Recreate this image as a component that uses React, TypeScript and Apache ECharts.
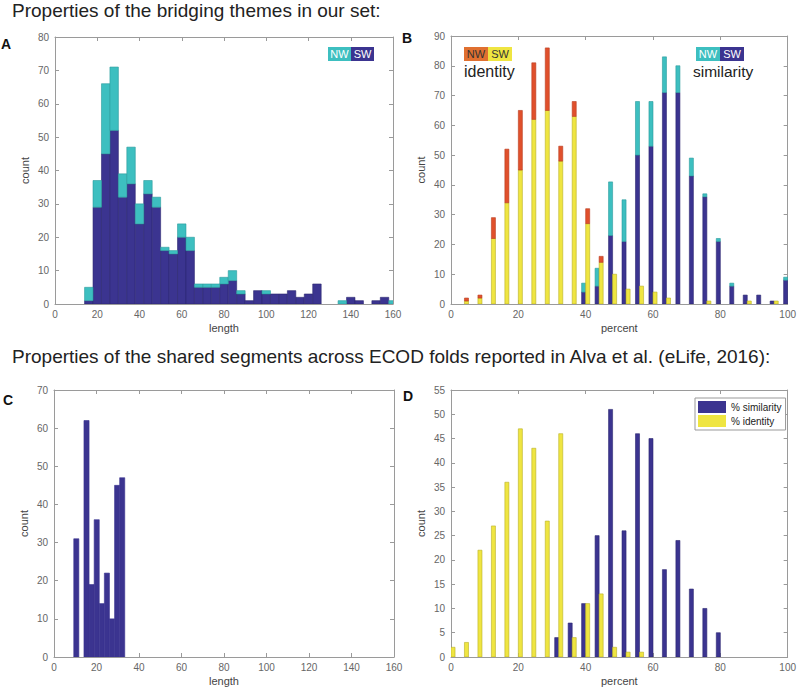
import React, { useEffect, useRef } from "react";
import * as echarts from "echarts";

// ---------- DATA ----------
// Panel A: length histogram of bridging themes (bin starts, width 4)
const aBinStarts = [14, 18, 22, 26, 30, 34, 38, 42, 46, 50, 54, 58, 62, 66, 70, 74, 78, 82, 86, 90, 94, 98, 102, 106, 110, 114, 118, 122, 126, 130, 134, 138, 142, 146, 150, 154, 158];
const aSW = [1, 29, 45, 52, 32, 36, 24, 33, 29, 16, 15, 20, 16, 5, 5, 5, 6, 7, 3, 1, 4, 3, 3, 3, 4, 2, 3, 6, 0, 0, 0, 2, 1, 0, 1, 2, 0];
const aTotal = [5, 37, 66, 71, 39, 47, 30, 37, 32, 17, 16, 24, 20, 6, 6, 6, 8, 10, 4, 1, 4, 4, 3, 3, 4, 2, 3, 6, 0, 0, 1, 2, 1, 0, 1, 2, 1];
const aBinWidth = 4;

// Panel B: percent identity / similarity (bin centers)
const bCenters = [0, 4, 8, 12, 16, 20, 24, 28, 32, 36, 40, 44, 48, 52, 56, 60, 64, 68, 72, 76, 80, 84, 88, 92, 96, 100];
const bIdentitySW = [0, 1, 2, 22, 34, 45, 62, 65, 48, 63, 27, 14, 10, 5, 6, 4, 2, 0, 0, 1, 0, 0, 1, 0, 1, 0];
const bIdentityTotal = [0, 2, 3, 29, 52, 65, 81, 86, 53, 68, 32, 16, 10, 5, 6, 4, 2, 0, 0, 1, 0, 0, 1, 0, 1, 0];
const bSimilaritySW = [0, 0, 0, 0, 0, 0, 0, 0, 0, 0, 4, 6, 23, 21, 50, 53, 71, 71, 43, 36, 21, 6, 3, 3, 1, 8];
const bSimilarityTotal = [0, 0, 0, 0, 0, 0, 0, 0, 0, 0, 7, 12, 41, 35, 68, 68, 83, 80, 49, 37, 22, 7, 3, 3, 1, 9];

// Panel C: ECOD shared segment lengths
const cBinStarts = [9.3, 11.7, 14.1, 16.5, 18.9, 21.3, 23.7, 26.1, 28.5, 30.9];
const cCounts = [31, 0, 62, 19, 36, 14, 22, 10, 45, 47];
const cBinWidth = 2.4;

// Panel D: ECOD percent similarity / identity
const dCenters = bCenters;
const dSimilarity = [0, 0, 0, 0, 0, 0, 0, 0, 4, 7, 11, 25, 51, 26, 46, 45, 18, 24, 14, 10, 5, 0, 0, 0, 0, 0];
const dIdentity = [2, 3, 22, 27, 36, 47, 43, 28, 46, 4, 11, 13, 2, 1, 1, 0, 0, 0, 0, 0, 0, 0, 0, 0, 0, 0];

// ---------- STYLE ----------
const FONT = "'Liberation Sans', Arial, Helvetica, sans-serif";
const NAVY = "#3b3490";
const NAVY_EDGE = "#2c2670";
const TEAL = "#3dbfc0";
const TEAL_EDGE = "#2a9b9c";
const RED = "#e0502c";
const RED_EDGE = "#b83c20";
const YELLOW = "#efe541";
const YELLOW_EDGE = "#b9b025";
const AXIS = "#9a9a9a";
const LABEL = "#666";
const GROUP_BAR = 1.2;

function makeRender(stroke: string) {
  return (params: any, api: any) => {
    const x0 = api.value(0);
    const x1 = api.value(1);
    const lo = api.value(2);
    const hi = api.value(3);
    if (!(hi > lo)) return null;
    const p0 = api.coord([x0, hi]);
    const p1 = api.coord([x1, lo]);
    return {
      type: "rect",
      shape: { x: p0[0], y: p0[1], width: p1[0] - p0[0], height: p1[1] - p0[1] },
      style: { fill: api.visual("color"), stroke, lineWidth: 0.6 },
    };
  };
}

function histSeries(name: string, gi: number, data: number[][], color: string, stroke: string) {
  return {
    type: "custom",
    name,
    xAxisIndex: gi * 2,
    yAxisIndex: gi * 2,
    clip: true,
    itemStyle: { color },
    renderItem: makeRender(stroke),
    data,
    silent: true,
  };
}

const grids = [
  { left: 55, top: 37, width: 338, height: 267 },
  { left: 451, top: 36, width: 340, height: 268 },
  { left: 54, top: 390, width: 340, height: 267 },
  { left: 451, top: 390, width: 339, height: 267 },
];

function buildAxes() {
  const specs = [
    { xMax: 160, xInt: 20, yMax: 80, yInt: 10, xName: "length" },
    { xMax: 100, xInt: 20, yMax: 90, yInt: 10, xName: "percent" },
    { xMax: 160, xInt: 20, yMax: 70, yInt: 10, xName: "length" },
    { xMax: 100, xInt: 20, yMax: 55, yInt: 5, xName: "percent" },
  ];
  const xAxis: any[] = [];
  const yAxis: any[] = [];
  const line = { show: true, onZero: false, lineStyle: { color: AXIS, width: 1 } };
  const tick = { show: true, inside: true, length: 4, lineStyle: { color: AXIS } };
  specs.forEach((s, gi) => {
    xAxis.push({
      gridIndex: gi, type: "value", position: "bottom", min: 0, max: s.xMax, interval: s.xInt,
      axisLine: line, axisTick: tick, splitLine: { show: false },
      axisLabel: { color: LABEL, fontSize: 10, fontFamily: FONT, margin: 5 },
      name: s.xName, nameLocation: "middle", nameGap: 18,
      nameTextStyle: { color: "#444", fontSize: 11, fontFamily: FONT },
    });
    xAxis.push({
      gridIndex: gi, type: "value", position: "top", min: 0, max: s.xMax, interval: s.xInt,
      axisLine: line, axisTick: tick, splitLine: { show: false }, axisLabel: { show: false },
    });
    yAxis.push({
      gridIndex: gi, type: "value", position: "left", min: 0, max: s.yMax, interval: s.yInt,
      axisLine: line, axisTick: tick, splitLine: { show: false },
      axisLabel: { color: LABEL, fontSize: 10, fontFamily: FONT, margin: 6 },
      name: "count", nameLocation: "middle", nameGap: 25, nameRotate: 90,
      nameTextStyle: { color: "#444", fontSize: 11, fontFamily: FONT },
    });
    yAxis.push({
      gridIndex: gi, type: "value", position: "right", min: 0, max: s.yMax, interval: s.yInt,
      axisLine: line, axisTick: tick, splitLine: { show: false }, axisLabel: { show: false },
    });
  });
  return { xAxis, yAxis };
}

function buildOption() {
  const aSWData = aBinStarts.map((s, i) => [s, s + aBinWidth, 0, aSW[i]]);
  const aNWData = aBinStarts.map((s, i) => [s, s + aBinWidth, aSW[i], aTotal[i]]);

  const bSimSW = bCenters.map((c, i) => [c - GROUP_BAR, c, 0, bSimilaritySW[i]]);
  const bSimNW = bCenters.map((c, i) => [c - GROUP_BAR, c, bSimilaritySW[i], bSimilarityTotal[i]]);
  const bIdSW = bCenters.map((c, i) => [c, c + GROUP_BAR, 0, bIdentitySW[i]]);
  const bIdNW = bCenters.map((c, i) => [c, c + GROUP_BAR, bIdentitySW[i], bIdentityTotal[i]]);

  const cData = cBinStarts.map((s, i) => [s, s + cBinWidth, 0, cCounts[i]]);

  const dSim = dCenters.map((c, i) => [c - GROUP_BAR, c, 0, dSimilarity[i]]);
  const dId = dCenters.map((c, i) => [c, c + GROUP_BAR, 0, dIdentity[i]]);

  const { xAxis, yAxis } = buildAxes();

  const text = (x: number, y: number, t: string, opts: any = {}) => ({
    type: "text",
    x, y,
    silent: true,
    style: {
      text: t,
      fill: opts.fill || "#111",
      fontSize: opts.fontSize || 12,
      fontFamily: FONT,
      fontWeight: opts.fontWeight || "normal",
      textAlign: opts.align || "left",
      textVerticalAlign: opts.valign || "top",
    },
  });
  const box = (x: number, y: number, w: number, h: number, fill: string) => ({
    type: "rect", silent: true, shape: { x, y, width: w, height: h }, style: { fill },
  });

  const graphic = [
    text(12, 1, "Properties of the bridging themes in our set:", { fontSize: 19, fill: "#222" }),
    text(12, 347, "Properties of the shared segments across ECOD folds reported in Alva et al. (eLife, 2016):", { fontSize: 19, fill: "#222" }),
    text(1, 37, "A", { fontSize: 14, fontWeight: "bold" }),
    text(402, 31, "B", { fontSize: 14, fontWeight: "bold" }),
    text(3, 393, "C", { fontSize: 14, fontWeight: "bold" }),
    text(403, 389, "D", { fontSize: 14, fontWeight: "bold" }),
    // Panel A legend
    box(328, 47, 23, 14, TEAL),
    box(351, 47, 23, 14, NAVY),
    text(339.5, 54, "NW", { fontSize: 11, fill: "#fff", align: "center", valign: "middle" }),
    text(362.5, 54, "SW", { fontSize: 11, fill: "#fff", align: "center", valign: "middle" }),
    // Panel B identity legend
    box(464, 47, 24, 14, "#e07030"),
    box(488, 47, 24, 14, YELLOW),
    text(476, 54, "NW", { fontSize: 11, fill: "#333", align: "center", valign: "middle" }),
    text(500, 54, "SW", { fontSize: 11, fill: "#333", align: "center", valign: "middle" }),
    text(464, 63, "identity", { fontSize: 16, fill: "#222" }),
    // Panel B similarity legend
    box(696, 47, 24, 14, TEAL),
    box(720, 47, 24, 14, NAVY),
    text(708, 54, "NW", { fontSize: 11, fill: "#fff", align: "center", valign: "middle" }),
    text(732, 54, "SW", { fontSize: 11, fill: "#fff", align: "center", valign: "middle" }),
    text(693, 63, "similarity", { fontSize: 15.5, fill: "#222" }),
  ];

  return {
    animation: false,
    backgroundColor: "#fff",
    grid: grids,
    xAxis,
    yAxis,
    graphic,
    legend: {
      data: ["% similarity", "% identity"],
      left: 695,
      top: 398,
      orient: "vertical",
      icon: "rect",
      itemWidth: 28,
      itemHeight: 12,
      itemGap: 2,
      padding: [3, 4, 3, 3],
      borderColor: "#999",
      borderWidth: 1,
      backgroundColor: "#fff",
      selectedMode: false,
      textStyle: { fontSize: 10, fontFamily: FONT, color: "#222" },
    },
    series: [
      histSeries("A SW", 0, aSWData, NAVY, NAVY_EDGE),
      histSeries("A NW", 0, aNWData, TEAL, TEAL_EDGE),
      histSeries("B similarity SW", 1, bSimSW, NAVY, NAVY_EDGE),
      histSeries("B similarity NW", 1, bSimNW, TEAL, TEAL_EDGE),
      histSeries("B identity SW", 1, bIdSW, YELLOW, YELLOW_EDGE),
      histSeries("B identity NW", 1, bIdNW, RED, RED_EDGE),
      histSeries("C length", 2, cData, NAVY, NAVY),
      histSeries("% similarity", 3, dSim, NAVY, NAVY_EDGE),
      histSeries("% identity", 3, dId, YELLOW, YELLOW_EDGE),
    ],
  };
}

export default function App() {
  const ref = useRef<HTMLDivElement>(null);
  useEffect(() => {
    if (!ref.current) return;
    const chart = echarts.init(ref.current, undefined, { renderer: "svg" });
    chart.setOption(buildOption() as any);
    return () => chart.dispose();
  }, []);
  return (
    <div
      ref={ref}
      style={{ position: "fixed", left: 0, top: 0, width: 799, height: 691, background: "#fff" }}
    />
  );
}
